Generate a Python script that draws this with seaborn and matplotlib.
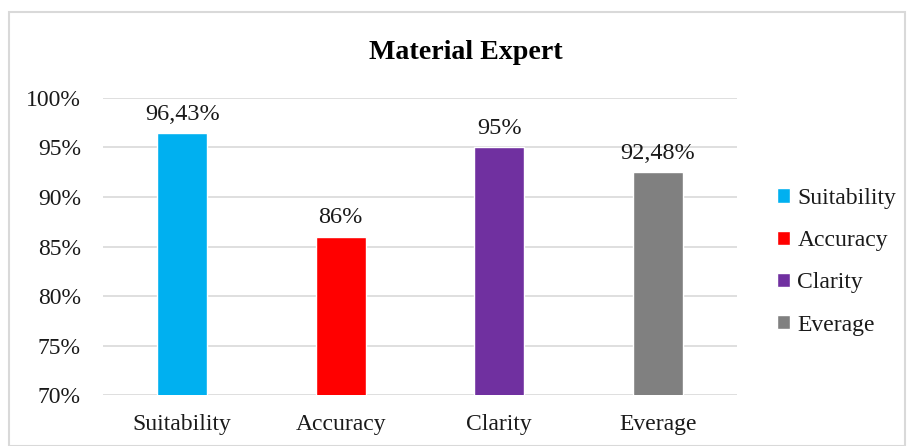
import matplotlib
matplotlib.use("Agg")
import matplotlib.pyplot as plt
import seaborn as sns
import pandas as pd
from matplotlib.patches import Rectangle
from matplotlib.ticker import FuncFormatter

categories = ["Suitability", "Accuracy", "Clarity", "Everage"]
values = [96.43, 86, 95, 92.48]
colors = ["#00B0F0", "#FF0000", "#7030A0", "#808080"]
yticks = [70, 75, 80, 85, 90, 95, 100]
title = "Material Expert"

sns.set_theme(style="white")
plt.rcParams["font.family"] = ["Liberation Serif", "DejaVu Serif"]

df = pd.DataFrame({"cat": categories, "val": values})

fig = plt.figure(figsize=(9.07, 4.46), dpi=100)
ax = fig.add_axes([0.1136, 0.1143, 0.699, 0.6660])

sns.barplot(data=df, x="cat", y="val", hue="cat", palette=colors,
            width=0.315, legend=True, ax=ax, saturation=1)

ax.set_ylim(70, 100)
ax.set_yticks(yticks)
ax.yaxis.set_major_formatter(FuncFormatter(lambda v, p: f"{v:.0f}%"))
ax.grid(axis="y", color="#D9D9D9", linewidth=1.2)
ax.set_axisbelow(True)
for s in ax.spines.values():
    s.set_visible(False)
ax.set_xlabel("")
ax.set_ylabel("")
ax.tick_params(axis="y", length=0, pad=16, labelsize=17, labelcolor="#1a1a1a")
ax.tick_params(axis="x", length=0, pad=14, labelsize=17, labelcolor="#1a1a1a")

labels = [f"{v:g}".replace(".", ",") + "%" for v in values]
for cont, lab in zip(ax.containers, labels):
    ax.bar_label(cont, labels=[lab], padding=6, fontsize=17.5, color="#1a1a1a")

leg = ax.get_legend()
handles = leg.legend_handles
leg.remove()
fig.legend(handles, categories, loc="center left", bbox_to_anchor=(0.857, 0.413),
           frameon=False, fontsize=17, handlelength=0.55, handleheight=0.55,
           handletextpad=0.3, labelspacing=0.9, borderpad=0, borderaxespad=0,
           labelcolor="#1a1a1a")

fig.text(0.514, 0.882, title, ha="center", va="center", fontsize=20.2,
         fontweight="bold", color="#000000")

fig.patches.append(Rectangle((9 / 907, 0.0), 896 / 907, 1 - 12 / 446,
                             transform=fig.transFigure, fill=False,
                             edgecolor="#D9D9D9", linewidth=1.5))

fig.savefig("out.png", dpi=100)
